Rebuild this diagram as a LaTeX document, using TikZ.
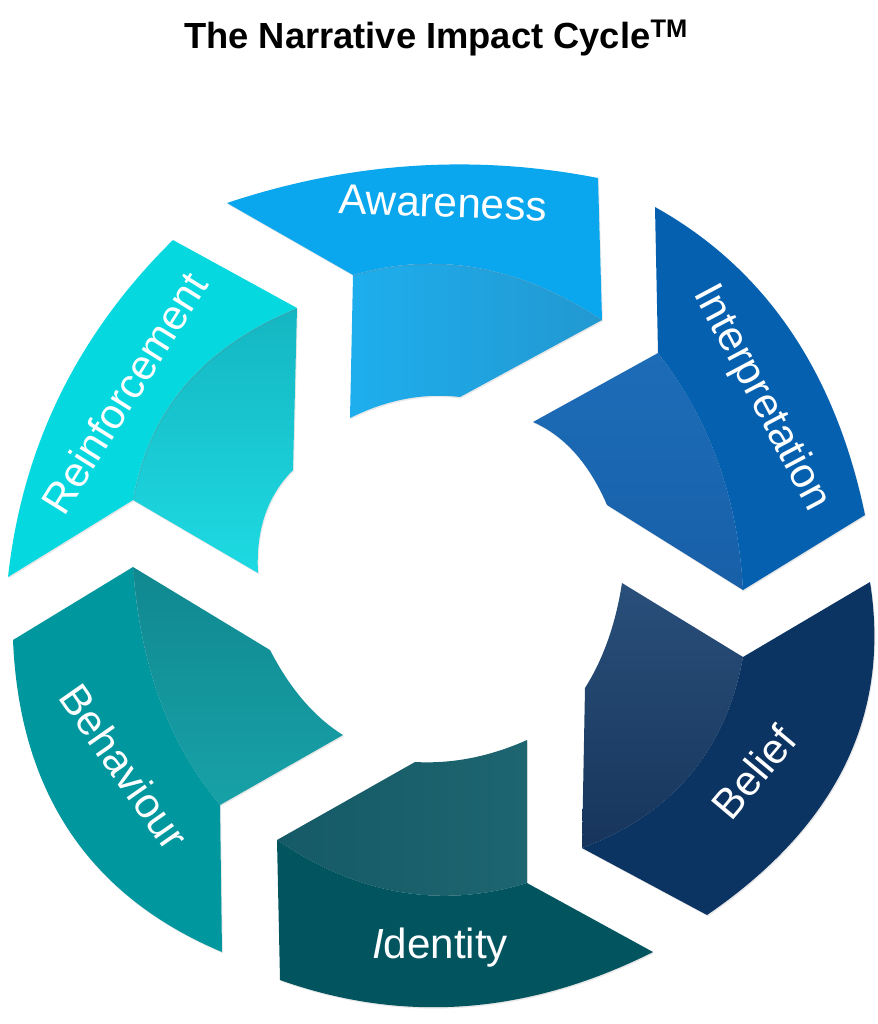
\documentclass[tikz,border=0pt]{standalone}
\usepackage{fontspec}
\setmainfont{Liberation Sans}
\usetikzlibrary{shadows}

\definecolor{awOuter}{HTML}{0AA6EE}
\definecolor{awInnerA}{HTML}{1EAEEE}
\definecolor{awInnerB}{HTML}{2298D0}
\definecolor{inOuter}{HTML}{0561B0}
\definecolor{inInnerA}{HTML}{1D6CB8}
\definecolor{inInnerB}{HTML}{1860A8}
\definecolor{beOuter}{HTML}{0B3462}
\definecolor{beInnerA}{HTML}{294F7A}
\definecolor{beInnerB}{HTML}{17355C}
\definecolor{idOuter}{HTML}{02545F}
\definecolor{idInnerA}{HTML}{1D6570}
\definecolor{idInnerB}{HTML}{155A66}
\definecolor{bhOuter}{HTML}{01979E}
\definecolor{bhInnerA}{HTML}{18A1A8}
\definecolor{bhInnerB}{HTML}{108890}
\definecolor{reOuter}{HTML}{06D8E0}
\definecolor{reInnerA}{HTML}{1EDAE2}
\definecolor{reInnerB}{HTML}{14B6C2}

\begin{document}
\begin{tikzpicture}[x=0.03cm, y=-0.03cm,
    seg/.style={drop shadow={opacity=0.18, shadow xshift=0.8pt, shadow yshift=-1.2pt}},
    steplabel/.style={text=white, font=\fontsize{36}{40}\selectfont, inner sep=0pt},
    titletext/.style={font=\bfseries\fontsize{31}{36}\selectfont, inner sep=0pt}]

    \useasboundingbox (0,0) rectangle (878,1024);

    % title
    \node[titletext] (title) at (436,38) {The Narrative Impact Cycle\textsuperscript{TM}};

    % Awareness
    \coordinate (aTip) at (227,203);
    \coordinate (aTR) at (598,178);
    \coordinate (aFR) at (602,320);
    \coordinate (aFold) at (353,275);
    \coordinate (aBL) at (350,418);
    \coordinate (aB) at (460,397);

    \shade[seg, left color=awInnerA, right color=awInnerB] (aFold)
        .. controls (436.7,250.7) and (519.7,265.7) .. (aFR)
        -- (aB) .. controls (423.3,392.7) and (386.7,399.7) .. (aBL) -- cycle;
    \fill[awOuter, seg] (aTip) .. controls (350,162) and (473.7,153.7) .. (aTR)
        -- (aFR) .. controls (519.7,265.7) and (436.7,250.7) .. (aFold) -- cycle;
    \node[steplabel, rotate=-2] (awareness) at (443,203) {Awareness};

    % Interpretation
    \coordinate (iTop) at (655,207);
    \coordinate (iR) at (865,515);
    \coordinate (iB) at (743,590);
    \coordinate (iFold) at (658,353);
    \coordinate (iL) at (533,422);
    \coordinate (iIn) at (607,505);

    \shade[seg, top color=inInnerA, bottom color=inInnerB] (iFold)
        .. controls (709.7,419.3) and (738,498.3) .. (iB)
        -- (iIn) .. controls (589,463.3) and (564.3,435.7) .. (iL) -- cycle;
    \fill[inOuter, seg] (iTop) .. controls (765,268.3) and (835,371) .. (iR)
        -- (iB) .. controls (738,498.3) and (709.7,419.3) .. (iFold) -- cycle;
    \node[steplabel, rotate=-62] (interpretation) at (761,398) {Interpretation};

    % Belief
    \coordinate (bTL) at (622,583);
    \coordinate (bTR) at (870,582);
    \coordinate (bV) at (743,657);
    \coordinate (bL) at (585,688);
    \coordinate (bBL) at (582,848);
    \coordinate (bB) at (707,915);

    \shade[seg, top color=beInnerA, bottom color=beInnerB] (bTL) -- (bV)
        .. controls (726,750.7) and (672.3,814.3) .. (bBL)
        -- (bL) .. controls (603.3,659) and (615.7,624) .. (bTL) -- cycle;
    \fill[beOuter, seg] (bV) -- (bTR) .. controls (891,715) and (836.7,826) .. (bB)
        -- (bBL) .. controls (672.3,814.3) and (726,750.7) .. (bV) -- cycle;
    \node[steplabel, rotate=50] (belief) at (754,772) {Belief};

    % Identity
    \coordinate (dTR) at (527,740);
    \coordinate (dTL) at (415,762);
    \coordinate (dL) at (277,840);
    \coordinate (dBL) at (280,980);
    \coordinate (dBR) at (653,952);
    \coordinate (dR) at (527,883);

    \shade[seg, left color=idInnerB, right color=idInnerA] (dTR)
        .. controls (489.7,756.7) and (452.3,764) .. (dTL)
        -- (dL) .. controls (357.7,895) and (441,909.3) .. (dR) -- cycle;
    \fill[idOuter, seg] (dL) .. controls (357.7,895) and (441,909.3) .. (dR)
        -- (dBR) .. controls (528,1014.7) and (403.7,1024) .. (dBL) -- cycle;
    \node[steplabel] (identity) at (440,948) {\textit{I}dentity};

    % Behaviour
    \coordinate (hApex) at (133,567);
    \coordinate (hL) at (13,640);
    \coordinate (hTR) at (270,650);
    \coordinate (hIn) at (343,735);
    \coordinate (hV) at (220,805);
    \coordinate (hB) at (222,952);

    \shade[seg, top color=bhInnerB, bottom color=bhInnerA] (hApex) -- (hTR)
        .. controls (289.7,688.3) and (314,717) .. (hIn)
        -- (hV) .. controls (169,744.3) and (140,665) .. (hApex) -- cycle;
    \fill[bhOuter, seg] (hL) -- (hApex) .. controls (140,665) and (169,744.3) .. (hV)
        -- (hB) .. controls (89,896) and (19.3,792) .. (hL) -- cycle;
    \node[steplabel, rotate=-55] (behaviour) at (124,767) {Behaviour};

    % Reinforcement
    \coordinate (rTop) at (173,240);
    \coordinate (rTR) at (297,308);
    \coordinate (rBL) at (8,577);
    \coordinate (rV) at (133,500);
    \coordinate (rB) at (258,573);
    \coordinate (rIn) at (293,470);

    \shade[seg, top color=reInnerB, bottom color=reInnerA] (rV)
        .. controls (147.7,410.7) and (202.3,346.7) .. (rTR)
        -- (rIn) .. controls (267.3,495.7) and (255.7,530) .. (rB) -- cycle;
    \fill[reOuter, seg] (rTop) -- (rTR) .. controls (202.3,346.7) and (147.7,410.7) .. (rV)
        -- (rBL) .. controls (22.3,446.7) and (77.3,334.3) .. (rTop) -- cycle;
    \node[steplabel, rotate=58] (reinforcement) at (124,393) {Reinforcement};

\end{tikzpicture}
\end{document}
